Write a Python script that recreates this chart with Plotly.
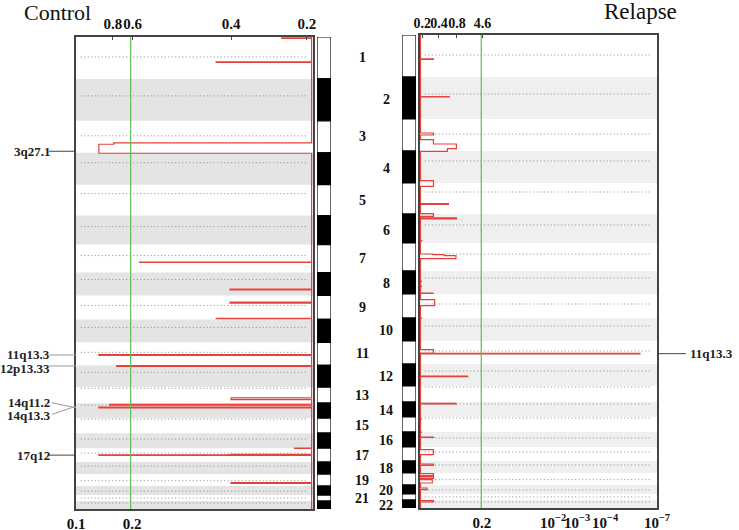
import plotly.graph_objects as go

W, H = 739, 530

# chromosome sizes (Mb, as drawn) and centromere offsets inside each chromosome
chroms = list(range(1, 23))
chrom_len = [252, 252, 192, 192, 186, 174, 168, 138, 144, 138, 138, 132,
             96, 90, 90, 90, 84, 72, 72, 54, 36, 48]
centromere = [120, 102, 90, 60, 54, 66, 66, 42, 60, 48, 60, 42,
              6, 12, 6, 36, 30, 24, 40, 30, 18, 12]

# significance curves: (chromosome, breakpoints in Mb, score between breakpoints)
control_peaks = [
    (1, [5, 8], [0.127]),
    (1, [149, 152], [0.405]),
    (3, [132, 141, 195], [0.84, 0.903]),
    (7, [105, 108], [0.73]),
    (8, [100, 105], [0.346]),
    (9, [40, 46], [0.346]),
    (9, [137, 140], [0.405]),
    (11, [74, 78], [0.903]),
    (12, [2, 6], [0.827]),
    (13, [64, 74], [0.342]),
    (14, [7, 11], [0.857]),
    (14, [24, 28], [0.903]),
    (17, [0, 2], [0.072]),
    (17, [38, 41, 44], [0.346, 0.903]),
    (19, [52, 56], [0.342]),
]
relapse_peaks = [
    (1, [143, 146], [0.055]),
    (2, [117, 120], [0.122]),
    (3, [84, 96], [0.055]),
    (3, [124, 150, 178, 194], [0.055, 0.152, 0.114]),
    (4, [178, 212], [0.055]),
    (5, [124, 128], [0.118]),
    (5, [184, 200], [0.055]),
    (6, [23, 30], [0.152]),
    (6, [160, 162], [0.005]),
    (7, [66, 70, 76, 94], [0.053, 0.1, 0.15]),
    (8, [60, 62], [0.004]),
    (8, [90, 92], [0.004]),
    (8, [132, 135], [0.053]),
    (9, [34, 70], [0.06]),
    (10, [0, 2], [0.004]),
    (11, [52, 72], [0.055]),
    (11, [74, 78], [0.928]),
    (12, [72, 76], [0.2]),
    (14, [8, 12], [0.15]),
    (15, [10, 12], [0.004]),
    (16, [0, 2], [0.004]),
    (16, [30, 33], [0.055]),
    (17, [16, 46], [0.055]),
    (18, [19, 27], [0.055]),
    (19, [4, 16], [0.055]),
    (19, [22, 32], [0.055]),
    (19, [40, 60], [0.05]),
    (20, [18, 28], [0.028]),
    (22, [4, 12], [0.055]),
]

# labelled peaks: (text, chromosome, position Mb)
control_labels = [("3q27.1", 3, 183), ("11q13.3", 11, 76), ("12p13.33", 12, 4),
                  ("14q11.2", 14, 24), ("14q13.3", 14, 24), ("17q12", 17, 42)]
relapse_labels = [("11q13.3", 11, 76)]

# axis ticks (positions on a 0-1 score scale) and their labels
ctrl_q_pos = [1.0, 0.762]
ctrl_q_text = ["0.1", "0.2"]
ctrl_g_pos = [0.844, 0.76, 0.342, 0.02]
ctrl_g_text = ["0.8", "0.6", "0.4", "0.2"]
rel_q_pos = [0.26, 0.561, 0.662, 0.781, 1.0]
rel_q_text = ["0.2", "10<sup>−2</sup>", "10<sup>−3</sup>", "10<sup>−4</sup>", "10<sup>−7</sup>"]
rel_g_pos = [0.008, 0.078, 0.154, 0.262]
rel_g_text = ["0.2", "0.4", "0.8", "4.6"]
ctrl_cutoff = 0.768
rel_cutoff = 0.257

starts = [sum(chrom_len[:i]) for i in range(len(chrom_len))]
total = sum(chrom_len)


def step_path(peaks):
    xs, ys = [0], [0]
    for c, bps, vals in peaks:
        s = starts[c - 1]
        xs.append(0); ys.append(s + bps[0])
        for i, v in enumerate(vals):
            xs += [v, v]
            ys += [s + bps[i], s + bps[i + 1]]
        xs.append(0); ys.append(s + bps[-1])
    xs.append(0); ys.append(total)
    return xs, ys


def px(x):
    return x / W


def py(y):
    return 1 - y / H


serif = "Liberation Serif"
red = "#e8403a"
fig = go.Figure()

band_colors = ["white" if c % 2 else "black" for c in chroms]
fig.add_trace(go.Bar(x=[0] * 22, y=chrom_len, base=starts, width=1, marker_color=band_colors,
                     marker_line_color="black", marker_line_width=1.2,
                     xaxis="x3", yaxis="y", hoverinfo="skip", showlegend=False))
fig.add_trace(go.Bar(x=[0] * 22, y=chrom_len, base=starts, width=1, marker_color=band_colors,
                     marker_line_color="black", marker_line_width=1.2,
                     xaxis="x6", yaxis="y2", hoverinfo="skip", showlegend=False))

cx, cy = step_path(control_peaks)
fig.add_trace(go.Scatter(x=cx, y=cy, mode="lines", line=dict(color=red, width=1.2),
                         xaxis="x", yaxis="y", hoverinfo="skip", showlegend=False))
rx, ry = step_path(relapse_peaks)
fig.add_trace(go.Scatter(x=rx, y=ry, mode="lines", line=dict(color=red, width=1.2),
                         xaxis="x4", yaxis="y2", hoverinfo="skip", showlegend=False))
# keep the overlaid top axes alive
for xa, ya in [("x2", "y"), ("x5", "y2")]:
    fig.add_trace(go.Scatter(x=[0.5], y=[0], mode="markers", marker=dict(opacity=0),
                             xaxis=xa, yaxis=ya, hoverinfo="skip", showlegend=False))

shapes = []
for ax, ya, shade in [("x", "y", "#e4e4e4"), ("x4", "y2", "#efefef")]:
    for i, c in enumerate(chroms):
        if c % 2 == 0:
            shapes.append(dict(type="rect", xref=ax + " domain", yref=ya, x0=0, x1=1,
                               y0=starts[i], y1=starts[i] + chrom_len[i],
                               fillcolor=shade, line_width=0, layer="below"))
        cen = starts[i] + centromere[i]
        shapes.append(dict(type="line", xref=ax + " domain", yref=ya, x0=0.02, x1=0.98,
                           y0=cen, y1=cen, line=dict(color="#8a8a8a", width=1, dash="1px,2.5px"),
                           layer="below"))
shapes.append(dict(type="line", xref="x", yref="y domain", x0=ctrl_cutoff, x1=ctrl_cutoff,
                   y0=0, y1=1, line=dict(color="#5cbf4f", width=1.2)))
shapes.append(dict(type="line", xref="x4", yref="y2 domain", x0=rel_cutoff, x1=rel_cutoff,
                   y0=0, y1=1, line=dict(color="#5cbf4f", width=1.2)))

annotations = []
for i, c in enumerate(chroms):
    annotations.append(dict(x=px(362 if c % 2 else 386), xref="paper", yref="y",
                            y=starts[i] + chrom_len[i] / 2, text=str(c), showarrow=False,
                            xanchor="center", yanchor="middle",
                            font=dict(family=serif, size=14, color="#111", weight="bold")))

label_font = dict(family=serif, size=13, color="#222", weight="bold")
text_shift = {"12p13.33": -3, "14q11.2": 5, "14q13.3": -8}
for text, c, pos in control_labels:
    y = starts[c - 1] + pos
    sh = text_shift.get(text, 0)
    annotations.append(dict(x=px(52), xref="paper", yref="y", y=y, yshift=sh, text=text,
                            showarrow=False, xanchor="right", yanchor="middle", font=label_font))
    if text.startswith("14q"):
        shapes.append(dict(type="line", xref="paper", yref="y", x0=px(52), x1=px(73),
                           y0=y - sh * 6 * 0.9, y1=y, line=dict(color="#9a9a9a", width=1)))
        shapes.append(dict(type="line", xref="paper", yref="y", x0=px(73), x1=px(76),
                           y0=y, y1=y, line=dict(color="#9a9a9a", width=1)))
    else:
        col = "#9a9a9a" if text in ("11q13.3", "12p13.33") else "#444"
        shapes.append(dict(type="line", xref="paper", yref="y", x0=px(49), x1=px(76),
                           y0=y, y1=y, line=dict(color=col, width=1)))
for text, c, pos in relapse_labels:
    y = starts[c - 1] + pos
    annotations.append(dict(x=px(688), xref="paper", yref="y2", y=y, text=text,
                            showarrow=False, xanchor="left", yanchor="middle", font=label_font))
    shapes.append(dict(type="line", xref="paper", yref="y2", x0=px(657), x1=px(686),
                       y0=y, y1=y, line=dict(color="#444", width=1)))

annotations.append(dict(x=px(22), y=py(13), xref="paper", yref="paper", text="Control",
                        showarrow=False, xanchor="left", yanchor="middle",
                        font=dict(family=serif, size=22, color="#111")))
annotations.append(dict(x=px(602), y=py(12), xref="paper", yref="paper", text="Relapse",
                        showarrow=False, xanchor="left", yanchor="middle",
                        font=dict(family=serif, size=23, color="#111")))

tickfont = dict(family=serif, size=15, color="#111", weight="bold")
frame = dict(showline=True, linecolor="#444", linewidth=1.5, showgrid=False, zeroline=False,
             automargin=False)
hidden = dict(visible=False, range=[-0.5, 0.5], fixedrange=True)

fig.update_layout(
    width=W, height=H, margin=dict(l=0, r=0, t=0, b=0, autoexpand=False),
    paper_bgcolor="white", plot_bgcolor="white", barmode="overlay",
    xaxis=dict(domain=[px(76), px(313)], range=[1.0, -0.006], anchor="y", side="bottom",
               tickmode="array", tickvals=ctrl_q_pos, ticktext=ctrl_q_text, ticks="",
               tickangle=0, tickfont=tickfont, mirror=True, **frame),
    xaxis2=dict(overlaying="x", matches="x", anchor="y", side="top", tickmode="array",
                tickvals=ctrl_g_pos, ticktext=ctrl_g_text, ticks="inside", ticklen=3,
                tickangle=0, tickcolor="#444", tickfont=tickfont, **frame),
    yaxis=dict(domain=[py(509), py(37)], range=[total, 0], anchor="x", showticklabels=False,
               ticks="", mirror=True, **frame),
    xaxis3=dict(domain=[px(317), px(331)], anchor="y", **hidden),
    xaxis4=dict(domain=[px(420), px(657)], range=[-0.002, 1.0], anchor="y2", side="bottom",
                tickmode="array", tickvals=rel_q_pos, ticktext=rel_q_text, ticks="",
                tickangle=0, tickfont=tickfont, mirror=True, **frame),
    xaxis5=dict(overlaying="x4", matches="x4", anchor="y2", side="top", tickmode="array",
                tickvals=rel_g_pos, ticktext=rel_g_text, ticks="inside", ticklen=3,
                tickangle=0, tickcolor="#444", tickfont=dict(tickfont, size=14), **frame),
    yaxis2=dict(domain=[py(508), py(35)], range=[total, 0], anchor="x4", showticklabels=False,
                ticks="", mirror=True, **frame),
    xaxis6=dict(domain=[px(402), px(416)], anchor="y2", **hidden),
    shapes=shapes, annotations=annotations,
)

fig.write_html("out.html", config={"displayModeBar": False},
               post_script="document.body.style.margin='0';")
